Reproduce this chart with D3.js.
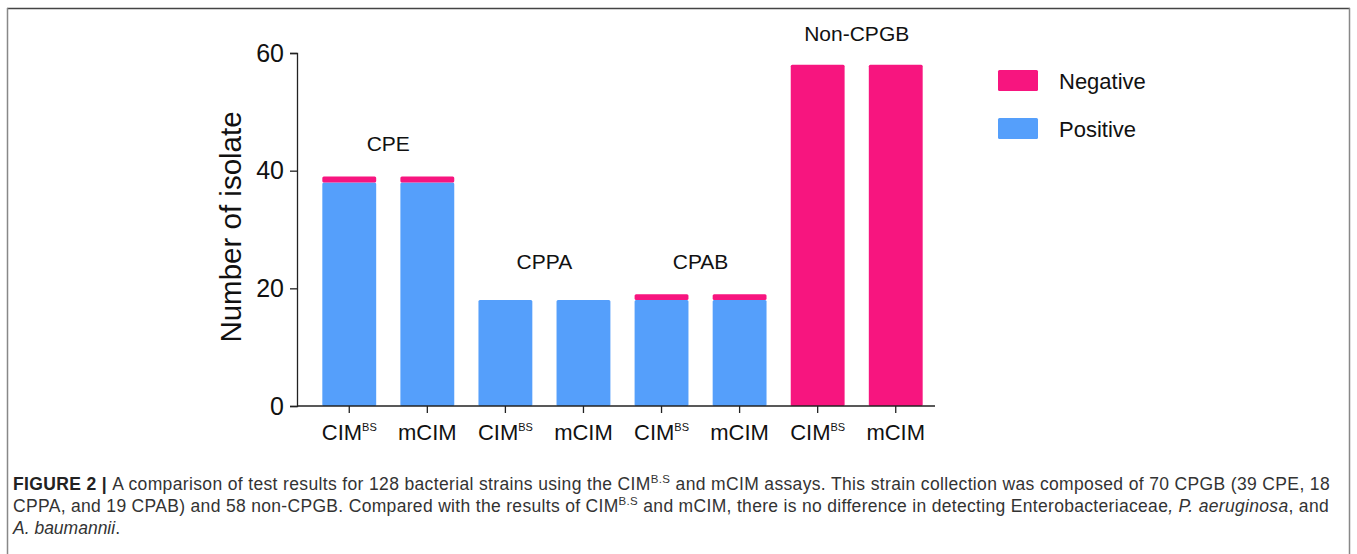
<!DOCTYPE html>
<html>
<head>
<meta charset="utf-8">
<script src="https://d3js.org/d3.v7.min.js"></script>
<style>
  body { margin: 0; background: #fff; }
  text { font-family: "Liberation Sans", Arial, sans-serif; fill: #111; }
  .cap text { fill: #333; }
</style>
</head>
<body>
<div id="chart"></div>
<script>
// bar categories, two per group
const categories = ["CIM1", "mCIM1", "CIM2", "mCIM2", "CIM3", "mCIM3", "CIM4", "mCIM4"]
const isCim = [true, false, true, false, true, false, true, false]
const groups = ["CPE", "CPPA", "CPAB", "Non-CPGB"]
const groupLabelLevel = [43.4, 23.3, 23.3, 62]
const positive = [38, 38, 18, 18, 18, 18, 0, 0]
const negative = [1, 1, 0, 0, 1, 1, 58, 58]
const yTicks = [0, 20, 40, 60]
const legendItems = ["Negative", "Positive"]

const width = 1357, height = 554
const colors = {Negative: "#f7157f", Positive: "#559ffb"}

const svg = d3.select("#chart").append("svg")
    .attr("width", width)
    .attr("height", height)

// frame
svg.append("line").attr("x1", 7).attr("x2", 1350).attr("y1", 8.5).attr("y2", 8.5)
    .attr("stroke", "#444").attr("stroke-width", 1.5)
svg.append("line").attr("x1", 7.5).attr("x2", 7.5).attr("y1", 8).attr("y2", height)
    .attr("stroke", "#888").attr("stroke-width", 1.5)
svg.append("line").attr("x1", 1349.5).attr("x2", 1349.5).attr("y1", 8).attr("y2", height)
    .attr("stroke", "#888").attr("stroke-width", 1.5)

const x = d3.scaleBand()
    .domain(categories)
    .range([295, 950])
    .paddingInner(0.31)
    .paddingOuter(0.35)

const y = d3.scaleLinear()
    .domain([0, 60])
    .range([406, 53])

// stacked bars
const rows = categories.map((c, i) => ({cat: c, Positive: positive[i], Negative: negative[i]}))
const stack = d3.stack().keys(["Positive", "Negative"])(rows)

svg.append("g").selectAll("g")
    .data(stack)
    .join("g")
        .attr("fill", d => colors[d.key])
    .selectAll("rect")
    .data(d => d.filter(s => s[1] > s[0]))
    .join("rect")
        .attr("x", d => x(d.data.cat))
        .attr("width", x.bandwidth())
        .attr("y", d => y(d[1]))
        .attr("height", d => y(d[0]) - y(d[1]))
        .attr("rx", 1.5)

// y axis
const yAxis = svg.append("g")
    .attr("transform", "translate(297,0)")
    .call(d3.axisLeft(y).tickValues(yTicks).tickSize(7).tickPadding(6))
yAxis.select(".domain").attr("stroke", "#222").attr("stroke-width", 1.3)
yAxis.selectAll(".tick line").attr("stroke", "#222").attr("stroke-width", 1.3)
yAxis.selectAll("text").style("font-size", "25px").attr("fill", "#111")
    .style("font-family", "'Liberation Sans', Arial, sans-serif")

// x axis
const xAxis = svg.append("g")
    .attr("transform", "translate(0,406)")
    .call(d3.axisBottom(x).tickSizeOuter(0).tickSize(7).tickFormat(""))
xAxis.select(".domain").attr("stroke", "#222").attr("stroke-width", 1.3)
    .attr("d", "M297,0H935")
xAxis.selectAll(".tick line").attr("stroke", "#222").attr("stroke-width", 1.3)

const xl = svg.append("g").selectAll("text")
    .data(categories)
    .join("text")
        .attr("x", d => x(d) + x.bandwidth() / 2)
        .attr("y", 440)
        .attr("text-anchor", "middle")
        .style("font-size", "22px")
xl.each(function (d, i) {
    const t = d3.select(this)
    if (isCim[i]) {
        t.append("tspan").text("CIM")
        t.append("tspan").attr("dy", -9).style("font-size", "11px").text("BS")
    } else {
        t.text("mCIM")
    }
})

// y label
svg.append("text")
    .attr("transform", "translate(241,227) rotate(-90)")
    .attr("text-anchor", "middle")
    .style("font-size", "29.5px")
    .text("Number of isolate")

// group labels
svg.append("g").selectAll("text")
    .data(groups)
    .join("text")
        .attr("x", (d, i) => (x(categories[i * 2]) + x(categories[i * 2 + 1]) + x.bandwidth()) / 2)
        .attr("y", (d, i) => y(groupLabelLevel[i]))
        .attr("text-anchor", "middle")
        .style("font-size", "21px")
        .text(d => d)

// legend
const lg = svg.append("g").selectAll("g")
    .data(legendItems)
    .join("g")
        .attr("transform", (d, i) => `translate(998,${70 + i * 48})`)
lg.append("rect")
    .attr("width", 40).attr("height", 21).attr("rx", 1.5)
    .attr("fill", d => colors[d])
lg.append("text")
    .attr("x", 61).attr("y", 19)
    .style("font-size", "22px")
    .text(d => d)

// caption
const cap = svg.append("g").attr("class", "cap").style("font-size", "17.5px")
const line1 = cap.append("text").attr("x", 13).attr("y", 490)
line1.append("tspan").style("font-weight", "bold").attr("fill", "#222").text("FIGURE 2 | ")
line1.append("tspan").text("A comparison of test results for 128 bacterial strains using the CIM")
line1.append("tspan").attr("dy", -7).style("font-size", "11.5px").text("B.S")
line1.append("tspan").attr("dy", 7).text(" and mCIM assays. This strain collection was composed of 70 CPGB (39 CPE, 18")
const line2 = cap.append("text").attr("x", 13).attr("y", 512)
line2.append("tspan").text("CPPA, and 19 CPAB) and 58 non-CPGB. Compared with the results of CIM")
line2.append("tspan").attr("dy", -7).style("font-size", "11.5px").text("B.S")
line2.append("tspan").attr("dy", 7).text(" and mCIM, there is no difference in detecting Enterobacteriaceae")
line2.append("tspan").style("font-style", "italic").text(", P. aeruginosa")
line2.append("tspan").text(", and")
const line3 = cap.append("text").attr("x", 13).attr("y", 534)
line3.append("tspan").style("font-style", "italic").text("A. baumannii")
line3.append("tspan").text(".")

// fit the two full caption lines to the measured width
;[[line1, 1317], [line2, 1316]].forEach(([t, target]) => {
    const w = t.node().getComputedTextLength()
    const n = t.text().length
    t.style("letter-spacing", `${(target - w) / n}px`)
})
</script>
</body>
</html>
